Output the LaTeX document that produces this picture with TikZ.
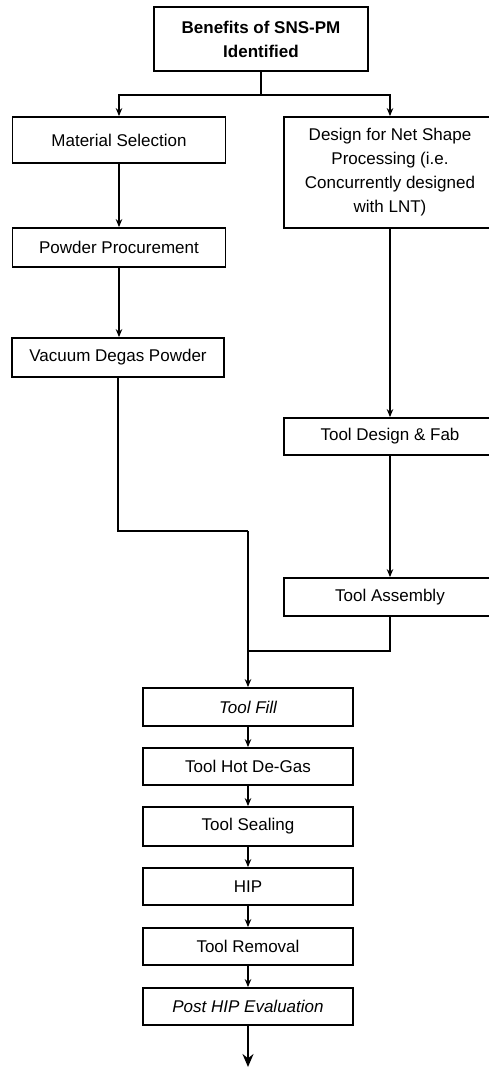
\documentclass[tikz,border=0pt]{standalone}
\usepackage{fontspec}
\setmainfont{Liberation Sans}
\usetikzlibrary{arrows.meta}
\begin{document}
\begin{tikzpicture}[x=1pt,y=-1pt,
  box/.style={draw,line width=1.8pt,rectangle,inner sep=0pt,align=center,
    font=\fontsize{17}{24}\selectfont},
  conn/.style={line width=1.6pt},
  arr/.style={conn,-{Stealth[length=8pt,width=6.5pt]}},
  bigarr/.style={conn,-{Stealth[length=13pt,width=11pt]}}]
\useasboundingbox (0,0) rectangle (489,1069);
\clip (0,0) rectangle (489,1069);
% nodes
\node[box,minimum width=214pt,minimum height=64pt,font=\fontsize{17}{24}\selectfont\bfseries] (top) at (261,39) {Benefits of SNS-PM\\Identified};
\node[box,minimum width=213pt,minimum height=46pt] (ms) at (119,140) {Material Selection};
\node[box,minimum width=212pt,minimum height=111pt] (des) at (390,172.5) {Design for Net Shape\\Processing (i.e.\\Concurrently designed\\with LNT)};
\node[box,minimum width=213pt,minimum height=39pt] (pp) at (119,247.5) {Powder Procurement};
\node[box,minimum width=212pt,minimum height=39pt] (vac) at (118,357.5) {Vacuum Degas Powder};
\node[box,minimum width=212pt,minimum height=37pt] (tdf) at (390,436.5) {Tool Design \& Fab};
\node[box,minimum width=212pt,minimum height=38pt] (ta) at (390,597) {Tool Assembly};
\node[box,minimum width=210pt,minimum height=38pt] (fill) at (248,707) {\itshape Tool Fill};
\node[box,minimum width=210pt,minimum height=37pt] (hot) at (248,766.5) {Tool Hot De-Gas};
\node[box,minimum width=210pt,minimum height=39pt] (seal) at (248,826.5) {Tool Sealing};
\node[box,minimum width=210pt,minimum height=37pt] (hip) at (248,886.5) {HIP};
\node[box,minimum width=210pt,minimum height=37pt] (rem) at (248,946.5) {Tool Removal};
\node[box,minimum width=210pt,minimum height=37pt] (post) at (248,1006.5) {\itshape Post HIP Evaluation};
% junction coordinates
\coordinate (j) at (261,95);
\coordinate (m1) at (248,531);
\coordinate (m2) at (248,651);
\coordinate (endp) at (248,1067);
% connectors
\draw[conn] (top.south) -- (j);
\draw[arr] (j) -| (ms.north);
\draw[arr] (j) -| (des.north);
\draw[arr] (ms) -- (pp);
\draw[arr] (pp.south) -- (pp.south |- vac.north);
\draw[arr] (des) -- (tdf);
\draw[arr] (tdf) -- (ta);
\draw[conn] (vac.south) |- (m1);
\draw[arr] (m1) -- (fill.north);
\draw[conn] (ta.south) |- (m2);
\draw[arr] (fill) -- (hot);
\draw[arr] (hot) -- (seal);
\draw[arr] (seal) -- (hip);
\draw[arr] (hip) -- (rem);
\draw[arr] (rem) -- (post);
\draw[bigarr] (post.south) -- (endp);
\end{tikzpicture}
\end{document}
